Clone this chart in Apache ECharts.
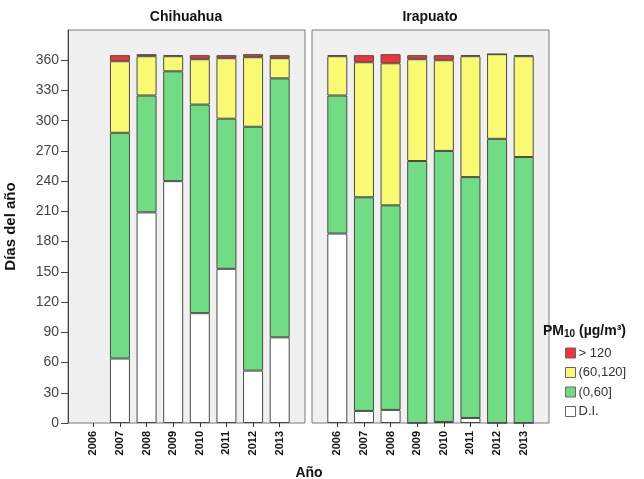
<!DOCTYPE html>
<html><head><meta charset="utf-8">
<script src="https://cdn.jsdelivr.net/npm/echarts@6/dist/echarts.min.js"></script>
<style>html,body{margin:0;padding:0;background:#fff}#c{width:644px;height:479px}</style>
</head><body><div id="c"></div>
<script>
var years = ['2006','2007','2008','2009','2010','2011','2012','2013'];
var seriesNames = ['D.I.','(0,60]','(60,120]','> 120'];
var seriesColors = ['#ffffff','#70dc84','#fafa72','#f0333b'];
var yTicks = [0,30,60,90,120,150,180,210,240,270,300,330,360];
// Chihuahua
var chiDI  = [null,64,209,240,109,153,52,85];
var chiG   = [null,224,116,109,207,149,242,257];
var chiY   = [null,71,39,15,45,60,69,20];
var chiR   = [null,6,2,1,4,3,3,3];
// Irapuato
var iraDI  = [188,12,13,0,1,5,0,0];
var iraG   = [137,212,203,260,269,239,282,264];
var iraY   = [39,134,141,101,90,120,84,100];
var iraR   = [1,7,9,4,5,1,0,1];

var FONT = 'Liberation Sans, Arial, sans-serif';
var chart = echarts.init(document.getElementById('c'), null, {renderer:'canvas'});

function mkSeries(vals, xi, stack){
  return vals.map(function(v,i){
    return {
      name: seriesNames[i], type:'bar', stack: stack,
      xAxisIndex: xi, yAxisIndex: xi, barWidth: 20,
      itemStyle:{color: seriesColors[i], borderColor:'#4a4a4a', borderWidth:1},
      emphasis:{disabled:true}, animation:false,
      data: v
    };
  });
}

function xAx(gi){
  return {
    type:'category', gridIndex: gi, data: years,
    axisLine:{show:false},
    axisTick:{show:true, alignWithLabel:true, length:4, lineStyle:{color:'#333'}},
    axisLabel:{rotate:90, margin:8, fontFamily:FONT, fontWeight:'bold', fontSize:11, color:'#111', interval:0}
  };
}

var option = {
  animation:false,
  backgroundColor:'#ffffff',
  grid:[
    {left:68, top:30, width:237, height:393, show:true, backgroundColor:'#f0f0f0', borderColor:'#7a7a7a', borderWidth:1},
    {left:312, top:30, width:237, height:393, show:true, backgroundColor:'#f0f0f0', borderColor:'#7a7a7a', borderWidth:1},
    {left:80, top:30, width:213, height:393},
    {left:324, top:30, width:213, height:393}
  ],
  xAxis:[ xAx(2), xAx(3) ],
  yAxis:[
    {type:'value', gridIndex:2, min:0, max:390, offset:12,
     name:'Días del año', nameLocation:'middle', nameGap:50,
     nameTextStyle:{fontFamily:FONT, fontWeight:'bold', fontSize:15, color:'#111'},
     axisLine:{show:true, lineStyle:{color:'#444'}},
     axisTick:{show:true, length:7, lineStyle:{color:'#444'}, customValues: yTicks},
     axisLabel:{margin:9, fontFamily:FONT, fontSize:14, color:'#444', customValues: yTicks},
     splitLine:{show:false}},
    {type:'value', gridIndex:3, min:0, max:390, show:false, splitLine:{show:false}}
  ],
  legend:{
    orient:'vertical', left:560, top:341, itemWidth:10, itemHeight:10, itemGap:5.5,
    icon:'rect',
    data: ['> 120','(60,120]','(0,60]','D.I.'],
    itemStyle:{borderColor:'#666', borderWidth:1},
    textStyle:{fontFamily:FONT, fontSize:13, color:'#333', lineHeight:14, padding:[0,0,0,-2]},
    selectedMode:false
  },
  graphic:[
    {type:'text', x:186, y:17, style:{text:'Chihuahua', font:'bold 14px '+FONT, fill:'#111', align:'center', verticalAlign:'middle'}},
    {type:'text', x:430, y:17, style:{text:'Irapuato', font:'bold 14px '+FONT, fill:'#111', align:'center', verticalAlign:'middle'}},
    {type:'text', x:309, y:473, style:{text:'Año', font:'bold 14px '+FONT, fill:'#111', align:'center', verticalAlign:'middle'}},
    {type:'text', x:543, y:331, style:{
      text:'{a|PM}{b|10}{a| (µg/m³)}', align:'left', verticalAlign:'middle',
      rich:{a:{font:'bold 14px '+FONT, fill:'#111'}, b:{font:'bold 10px '+FONT, fill:'#111', padding:[6,0,0,0]}}
    }}
  ],
  series: [].concat(
    mkSeries([chiDI,chiG,chiY,chiR], 0, 'chi'),
    mkSeries([iraDI,iraG,iraY,iraR], 1, 'ira')
  )
};
chart.setOption(option);
</script></body></html>
